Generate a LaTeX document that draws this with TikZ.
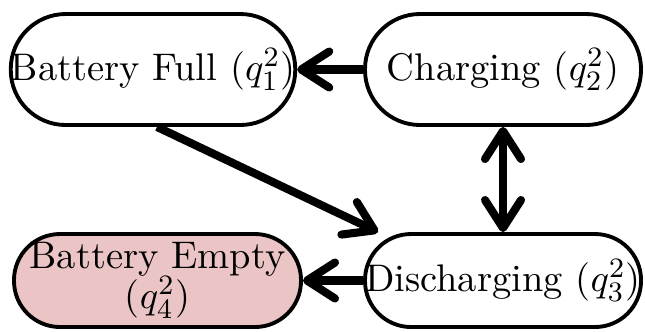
\documentclass[tikz,border=0pt]{standalone}
\usepackage{amsmath,amssymb}
\usepackage{tikz}
\usetikzlibrary{arrows.meta}

\definecolor{emptyred}{RGB}{235,197,197}

\begin{document}
\begin{tikzpicture}[
    font=\fontsize{10.95}{11.4}\selectfont,
    >={Straight Barb[round,length=0.28cm,width=0.36cm]},
    state/.style={draw, line width=1.1pt, align=center, inner sep=0pt},
    trans/.style={line width=2.3pt},
  ]
    \useasboundingbox (0,0) rectangle (6.45,-3.31);

    % top row
    \node[state, rounded corners=0.55cm, minimum width=2.76cm, minimum height=1.11cm] (full) at (1.53,-0.695) {Battery Full ($q_1^2$)};
    \node[state, rounded corners=0.55cm, minimum width=2.76cm, minimum height=1.11cm] (charging) at (5.03,-0.695) {Charging ($q_2^2$)};

    % bottom row
    \node[state, rounded corners=0.46cm, minimum width=2.76cm, minimum height=0.93cm] (discharging) at (5.03,-2.805) {Discharging ($q_3^2$)};
    \node[state, rounded corners=0.46cm, fill=emptyred, minimum width=2.87cm, minimum height=0.93cm] (empty) at (1.575,-2.805) {Battery Empty\\($q_4^2$)};

    % transitions
    \draw[trans, ->] (charging) -- (full);
    \draw[trans, ->] ([xshift=0.04cm]full.south) -- ([xshift=0.15cm]discharging.north west);
    \draw[trans, <->] (charging) -- (discharging);
    \draw[trans, ->] (discharging) -- (empty);
\end{tikzpicture}
\end{document}
